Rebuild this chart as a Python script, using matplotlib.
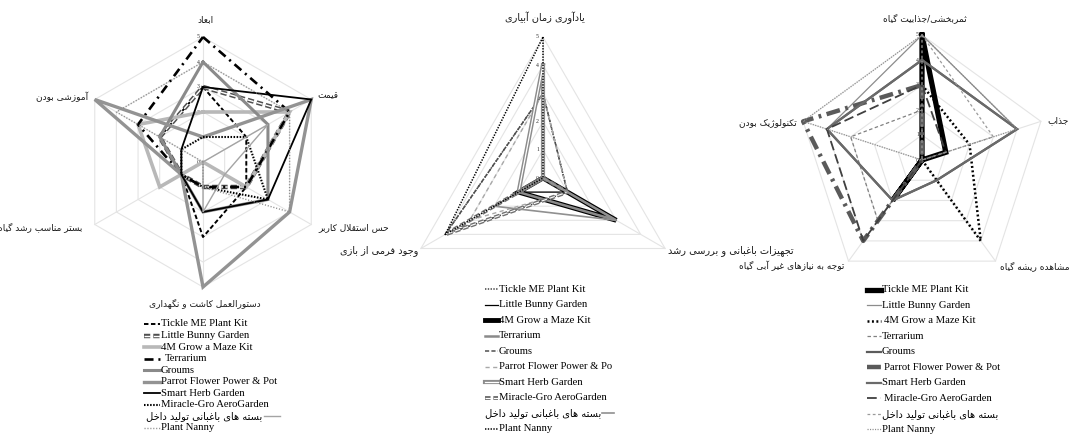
import numpy as np
import matplotlib
matplotlib.use('Agg')
import matplotlib.pyplot as plt
from matplotlib.lines import Line2D
import matplotlib.patheffects as pe

plt.rcParams['lines.scale_dashes'] = False

# ---------------- data ----------------
series = ['Tickle ME Plant Kit', 'Little Bunny Garden', '4M Grow a Maze Kit', 'Terrarium', 'Groums',
          'Parrot Flower Power & Pot', 'Smart Herb Garden', 'Miracle-Gro AeroGarden',
          'بسته های باغبانی تولید داخل', 'Plant Nanny']
series_mid = ['Tickle ME Plant Kit', 'Little Bunny Garden', '4M Grow a Maze Kit', 'Terrarium', 'Groums',
              'Parrot Flower Power & Po', 'Smart Herb Garden', 'Miracle-Gro AeroGarden',
              'بسته های باغبانی تولید داخل', 'Plant Nanny']

left_axes = ['ابعاد', 'قیمت', 'حس استقلال کاربر', 'دستورالعمل کاشت و نگهداری', 'بستر مناسب رشد گیاه', 'آموزشی بودن']
mid_axes = ['یادآوری زمان آبیاری', 'تجهیزات باغبانی و بررسی رشد', 'وجود فرمی از بازی']
right_axes = ['ثمربخشی/جذابیت گیاه', 'جذاب', 'مشاهده ریشه گیاه', 'توجه به نیازهای غیر آبی گیاه', 'تکنولوژیک بودن']

ticks = [0, 1, 2, 3, 4, 5]

tickle_L = [3, 2, 2, 3, 1, 2]
bunny_L = [3, 4, 2, 1, 1, 2]
maze_L = [2, 4, 2, 0, 2, 3]
terrarium_L = [5, 4, 2, 1, 1, 3]
grooms_L = [4, 3, 3, 2, 1, 2]
parrot_L = [1, 5, 4, 5, 1, 5]
smart_L = [3, 5, 3, 2, 1, 1]
miracle_L = [1, 2, 3, 1, 1, 1]
basteh_L = [0, 3, 1, 2, 0, 0]
nanny_L = [4, 4, 4, 1, 0, 4]

tickle_M = [3, 1, 4]
bunny_M = [0, 1, 1]
maze_M = [0, 3, 1]
terrarium_M = [0, 3, 1]
grooms_M = [3, 1, 4]
parrot_M = [3, 1, 3]
smart_M = [4, 0, 1]
miracle_M = [0, 1, 4]
basteh_M = [0, 3, 2]
nanny_M = [5, 0, 4]

tickle_R = [5, 1, 0, 2, 0]
bunny_R = [5, 4, 1, 2, 4]
maze_R = [3, 2, 4, 0, 0]
terrarium_R = [2, 0, 0, 3, 3]
grooms_R = [4, 4, 1, 2, 4]
parrot_R = [3, 0, 0, 4, 5]
smart_R = [4, 4, 1, 2, 4]
miracle_R = [3, 1, 0, 4, 4]
basteh_R = [5, 3, 0, 0, 0]
nanny_R = [5, 4, 0, 0, 5]

left_vals = [tickle_L, bunny_L, maze_L, terrarium_L, grooms_L, parrot_L, smart_L, miracle_L, basteh_L, nanny_L]
mid_vals = [tickle_M, bunny_M, maze_M, terrarium_M, grooms_M, parrot_M, smart_M, miracle_M, basteh_M, nanny_M]
right_vals = [tickle_R, bunny_R, maze_R, terrarium_R, grooms_R, parrot_R, smart_R, miracle_R, basteh_R, nanny_R]

# ---------------- Persian shaping (presentation forms + visual order) ----------------
FORMS = {
    '\u0622': ('\uFE81', '\uFE82', None, None),
    '\u0627': ('\uFE8D', '\uFE8E', None, None),
    '\u0628': ('\uFE8F', '\uFE90', '\uFE91', '\uFE92'),
    '\u067E': ('\uFB56', '\uFB57', '\uFB58', '\uFB59'),
    '\u062A': ('\uFE95', '\uFE96', '\uFE97', '\uFE98'),
    '\u062B': ('\uFE99', '\uFE9A', '\uFE9B', '\uFE9C'),
    '\u062C': ('\uFE9D', '\uFE9E', '\uFE9F', '\uFEA0'),
    '\u0686': ('\uFB7A', '\uFB7B', '\uFB7C', '\uFB7D'),
    '\u062D': ('\uFEA1', '\uFEA2', '\uFEA3', '\uFEA4'),
    '\u062E': ('\uFEA5', '\uFEA6', '\uFEA7', '\uFEA8'),
    '\u062F': ('\uFEA9', '\uFEAA', None, None),
    '\u0630': ('\uFEAB', '\uFEAC', None, None),
    '\u0631': ('\uFEAD', '\uFEAE', None, None),
    '\u0632': ('\uFEAF', '\uFEB0', None, None),
    '\u0698': ('\uFB8A', '\uFB8B', None, None),
    '\u0633': ('\uFEB1', '\uFEB2', '\uFEB3', '\uFEB4'),
    '\u0634': ('\uFEB5', '\uFEB6', '\uFEB7', '\uFEB8'),
    '\u0639': ('\uFEC9', '\uFECA', '\uFECB', '\uFECC'),
    '\u063A': ('\uFECD', '\uFECE', '\uFECF', '\uFED0'),
    '\u0641': ('\uFED1', '\uFED2', '\uFED3', '\uFED4'),
    '\u0642': ('\uFED5', '\uFED6', '\uFED7', '\uFED8'),
    '\u06A9': ('\uFB8E', '\uFB8F', '\uFB90', '\uFB91'),
    '\u06AF': ('\uFB92', '\uFB93', '\uFB94', '\uFB95'),
    '\u0644': ('\uFEDD', '\uFEDE', '\uFEDF', '\uFEE0'),
    '\u0645': ('\uFEE1', '\uFEE2', '\uFEE3', '\uFEE4'),
    '\u0646': ('\uFEE5', '\uFEE6', '\uFEE7', '\uFEE8'),
    '\u0648': ('\uFEED', '\uFEEE', None, None),
    '\u0647': ('\uFEE9', '\uFEEA', '\uFEEB', '\uFEEC'),
    '\u06CC': ('\uFBFC', '\uFBFD', '\uFBFE', '\uFBFF'),
}
LAMALEF = {'\u0627': ('\uFEFB', '\uFEFC'), '\u0622': ('\uFEF5', '\uFEF6')}


def fa(s):
    if not any(c in FORMS for c in s):
        return s
    ch = list(s)
    out = []
    i, n = 0, len(ch)

    def dual(c):
        return c in FORMS and FORMS[c][2] is not None
    while i < n:
        c = ch[i]
        if c not in FORMS:
            out.append(c)
            i += 1
            continue
        pc = i > 0 and dual(ch[i - 1])
        if c == '\u0644' and i + 1 < n and ch[i + 1] in LAMALEF:
            lig = LAMALEF[ch[i + 1]]
            out.append(lig[1] if pc else lig[0])
            i += 2
            continue
        nc = dual(c) and i + 1 < n and ch[i + 1] in FORMS
        f = FORMS[c]
        if pc and nc:
            g = f[3]
        elif pc:
            g = f[1]
        elif nc:
            g = f[2]
        else:
            g = f[0]
        out.append(g)
        i += 1
    return ''.join(reversed(out))


# ---------------- styles ----------------
def cmp_line(fg, lw_out, lw_in, dashes=None):
    d = dict(color='white', lw=lw_in,
             path_effects=[pe.Stroke(linewidth=lw_out, foreground=fg), pe.Normal()])
    if dashes:
        d['dashes'] = dashes
    return d


L_styles = [
    dict(color='black', lw=1.4, dashes=(3.2, 1.8)),
    cmp_line('#505050', 3.2, 1.0, (4.5, 2.2)),
    dict(color='#b8b8b8', lw=2.6),
    dict(color='black', lw=1.9, dashes=(6.5, 3.5, 1.5, 3.5)),
    dict(color='#8a8a8a', lw=2.2),
    dict(color='#939393', lw=2.4),
    dict(color='black', lw=1.3),
    dict(color='black', lw=1.5, dashes=(1.1, 1.1)),
    dict(color='#a4a4a4', lw=1.0),
    dict(color='#8c8c8c', lw=1.0, dashes=(0.8, 1.3)),
]
M_styles = [
    dict(color='#404040', lw=1.1, dashes=(1.0, 1.0)),
    dict(color='black', lw=0.9),
    dict(color='black', lw=3.5),
    dict(color='#8a8a8a', lw=1.8),
    dict(color='#505050', lw=1.1, dashes=(3.0, 1.6)),
    dict(color='#a8a8a8', lw=1.0, dashes=(3.0, 2.5)),
    cmp_line('#8c8c8c', 3.0, 0.9),
    cmp_line('#707070', 2.8, 0.8, (4.0, 2.0)),
    dict(color='#909090', lw=1.2),
    dict(color='black', lw=1.1, dashes=(1.0, 1.0)),
]
R_styles = [
    dict(color='black', lw=3.8),
    dict(color='#8c8c8c', lw=0.9),
    dict(color='black', lw=1.8, dashes=(1.4, 1.8)),
    dict(color='#808080', lw=0.9, dashes=(2.5, 1.8)),
    dict(color='#5c5c5c', lw=1.6),
    dict(color='#5a5a5a', lw=3.2, dashes=(10, 4, 2, 4)),
    dict(color='#6a6a6a', lw=1.6),
    dict(color='#404040', lw=1.3, dashes=(7, 3)),
    dict(color='#9a9a9a', lw=0.9, dashes=(2.0, 1.8)),
    dict(color='#8c8c8c', lw=0.9, dashes=(0.8, 1.0)),
]

W, H = 1073, 434
fig = plt.figure(figsize=(W / 100, H / 100), dpi=100)
fig.patch.set_facecolor('white')

SERIF = ['Liberation Serif', 'DejaVu Serif']
FA = ['DejaVu Sans']


def make_radar(cx, cy, R, labels, vals, styles, label_offsets, label_align, fa_size, tick_dx):
    ax = fig.add_axes([(cx - R) / W, (H - cy - R) / H, 2 * R / W, 2 * R / H], projection='polar')
    ax.set_theta_offset(np.pi / 2)
    ax.set_theta_direction(-1)
    ax.set_ylim(0, 5)
    ax.grid(False)
    ax.set_xticks([])
    ax.set_yticks([])
    ax.spines['polar'].set_visible(False)
    ax.patch.set_visible(False)
    n = len(labels)
    th = np.arange(n) * 2 * np.pi / n
    thc = np.append(th, th[0])
    gc = '#e4e4e4'
    for lv in ticks[1:]:
        ax.plot(thc, [lv] * (n + 1), color=gc, lw=0.8, zorder=1, clip_on=False)
    for t in th:
        ax.plot([t, t], [0, ticks[-1]], color=gc, lw=0.8, zorder=1, clip_on=False)
    for lv in ticks:
        ax.annotate(str(lv), xy=(0, lv), xytext=(tick_dx, 0), textcoords='offset pixels',
                    ha='right', va='center', fontsize=4.2, family=SERIF, color='#333333', zorder=2)
    for v, st in zip(vals, styles):
        ax.plot(thc, list(v) + [v[0]], clip_on=False, zorder=3, solid_joinstyle='miter', **st)
    for t, lab, off, al in zip(th, labels, label_offsets, label_align):
        ax.annotate(fa(lab), xy=(t, ticks[-1]), xytext=off, textcoords='offset pixels',
                    ha=al, va='center', fontsize=fa_size, family=FA, color='#1a1a1a')
    return ax


make_radar(203, 162, 125, left_axes, left_vals, L_styles,
           [(2, 17), (6, 4), (7, -3), (2, -16), (-12, -3), (-7, 3)],
           ['center', 'left', 'left', 'center', 'right', 'right'], 6.5, -3)
make_radar(543, 178, 141, mid_axes, mid_vals, M_styles,
           [(2, 19), (3, -2), (-3, -2)],
           ['center', 'left', 'right'], 7.0, -4)
make_radar(922, 160, 125, right_axes, right_vals, R_styles,
           [(3, 17), (6, 1), (5, -5), (-4, -5), (-6, -1)],
           ['center', 'left', 'left', 'right', 'right'], 6.5, -3)


def fx(x):
    return x / W


def fy(y):
    return 1 - y / H


def legend(names, styles, hx0, hx1, tx, y0, dy, fa_row_text_end, fa_handle, text_pad, size=7.7):
    for k, (nm, st) in enumerate(zip(names, styles)):
        y = y0 + k * dy
        is_fa = any(c in FORMS for c in nm)
        if is_fa and fa_row_text_end is not None:
            fig.text(fx(fa_row_text_end), fy(y), fa(nm), ha='right', va='center',
                     fontsize=size * 0.92, family=FA, color='black')
            a, b = fa_handle
            fig.add_artist(Line2D([fx(a), fx(b)], [fy(y), fy(y)], transform=fig.transFigure, **st))
        else:
            fig.add_artist(Line2D([fx(hx0), fx(hx1)], [fy(y), fy(y)], transform=fig.transFigure, **st))
            fig.text(fx(tx + text_pad[k]), fy(y), fa(nm), ha='left', va='center',
                     fontsize=size if not is_fa else size * 0.92,
                     family=SERIF if not is_fa else FA, color='black')


legend(series, L_styles, 144, 160, 161, 324, 11.55, 262, (264, 280),
       [0, 0, 0, 4, 0, 0, 0, 0, 0, 0])
legend(series_mid, M_styles, 485, 498, 499, 289, 15.55, 601, (602, 614),
       [0, 0, 0, 0, 0, 0, 0, 0, 0, 0])
legend(series, R_styles, 867, 881, 882, 290, 15.45, None, None,
       [0, 0, 2, 0, 0, 2, 0, 2, 0, 0])

fig.savefig('out.png', dpi=100)
